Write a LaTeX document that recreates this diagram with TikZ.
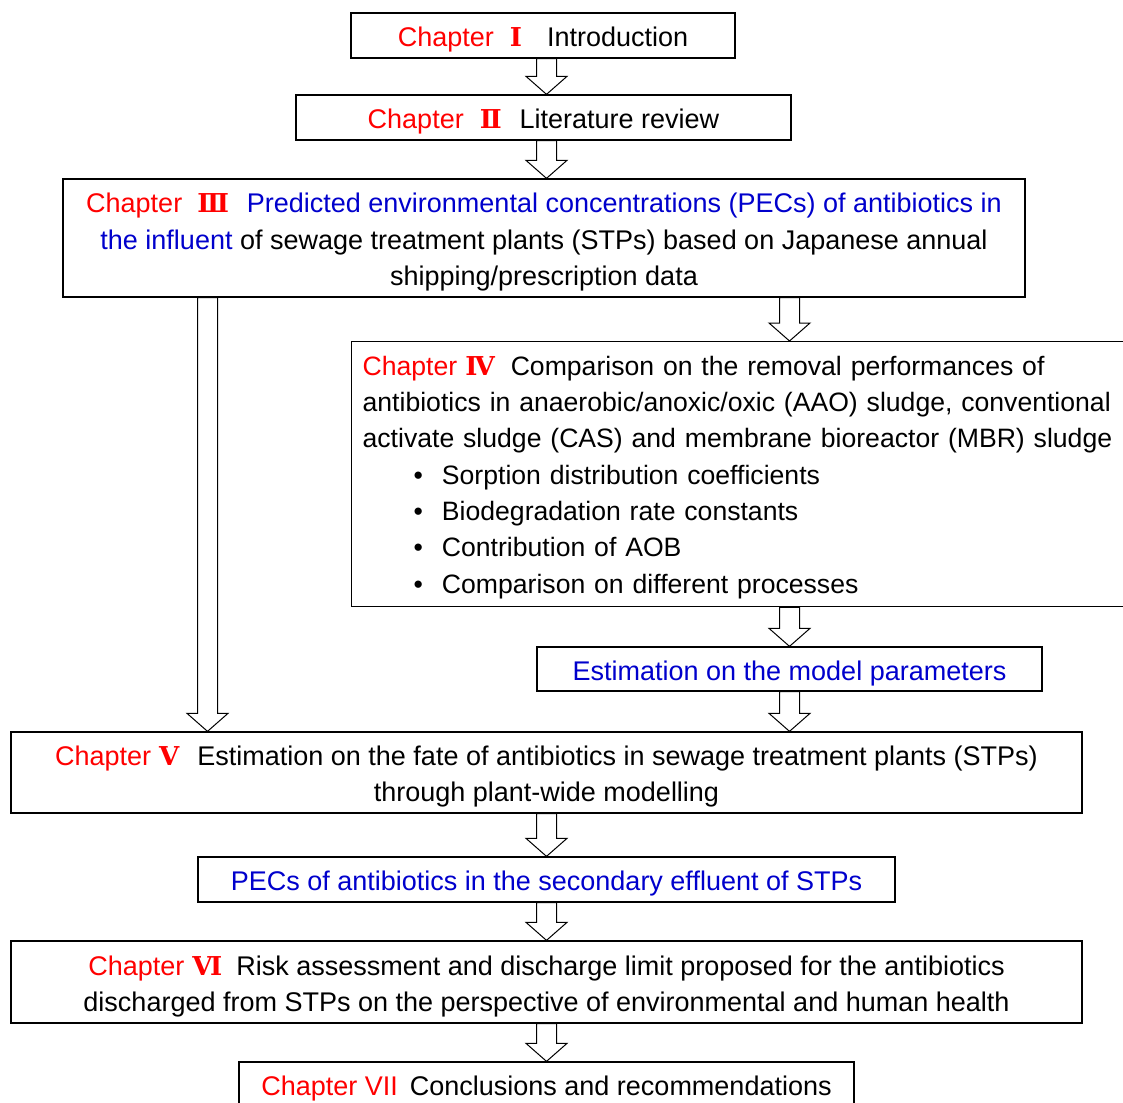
\documentclass[tikz,border=0pt]{standalone}
\usepackage{fontspec}
\setmainfont{Liberation Sans}
\newfontfamily\numfont{DejaVu Serif}
\usetikzlibrary{calc}
\definecolor{chred}{RGB}{255,0,0}
\definecolor{chblue}{RGB}{0,0,204}
\newcommand{\chap}[2][8pt]{\textcolor{chred}{Chapter\hspace{#1}{\numfont\bfseries\fontsize{26}{30}\selectfont #2}}}
\newcommand{\sk}{\rule[-6pt]{0pt}{34.4pt}}
\newcommand{\ib}{\hspace*{51pt}\textbullet\hspace{19pt}}

\begin{document}
\begin{tikzpicture}[x=1pt,y=-1pt,
  chbox/.style={draw, line width=1.3pt, inner sep=0pt, align=center,
    font=\fontsize{27}{36.3}\selectfont},
  hollow/.style={draw, line width=1pt, fill=white,
    to path={let \p1=(\tikztostart), \p2=(\tikztotarget) in
      (\x1-10pt,\y1) -- (\x1-10pt,\y2+18pt) -- (\x1-20.5pt,\y2+18pt) -- (\x1,\y2)
      -- (\x1+20.5pt,\y2+18pt) -- (\x1+10pt,\y2+18pt) -- (\x1+10pt,\y1) -- cycle}}]
\useasboundingbox (0,0) rectangle (1123,1102);
\coordinate (spine) at (546.5,0);
\coordinate (lane) at (207.5,0);

\node[chbox, minimum width=384, minimum height=45] (ch1) at (543,35.5)
  {\sk\chap[16pt]{Ⅰ}\hspace{25pt}Introduction};
\node[chbox, minimum width=495, minimum height=45] (ch2) at (543.5,117.5)
  {\sk\chap[16pt]{Ⅱ}\hspace{18pt}Literature review};
\node[chbox, minimum width=962, minimum height=118] (ch3) at (544,238)
  {\sk\chap[15pt]{Ⅲ}\hspace{18pt}\textcolor{chblue}{Predicted environmental concentrations (PECs) of antibiotics in}\\
   \textcolor{chblue}{the influent} of sewage treatment plants (STPs) based on Japanese annual\\
   shipping/prescription data\sk};
\node[chbox, anchor=north west, minimum height=265, text width=762, inner xsep=11,
  align=left, font=\fontsize{26.6}{36.3}\selectfont] (ch4) at (351,341)
  {\rule[-6pt]{0pt}{32pt}\chap{Ⅳ}\hspace{16pt}Comparison on the removal performances of\\
   antibiotics in anaerobic/anoxic/oxic (AAO) sludge, conventional\\
   activate sludge (CAS) and membrane bioreactor (MBR) sludge\\
   \ib Sorption distribution coefficients\\
   \ib Biodegradation rate constants\\
   \ib Contribution of AOB\\
   \ib Comparison on different processes\sk};
\node[chbox, minimum width=505, minimum height=44] (est) at (789.5,669)
  {\sk\textcolor{chblue}{Estimation on the model parameters}};
\node[chbox, minimum width=1071, minimum height=81] (ch5) at (546.5,772.5)
  {\sk\chap{Ⅴ}\hspace{18pt}Estimation on the fate of antibiotics in sewage treatment plants (STPs)\\
   through plant-wide modelling\sk};
\node[chbox, minimum width=697, minimum height=45] (pecs) at (546.5,879.5)
  {\sk\textcolor{chblue}{PECs of antibiotics in the secondary effluent of STPs}};
\node[chbox, minimum width=1071, minimum height=82] (ch6) at (546.5,982)
  {\sk\chap{Ⅵ}\hspace{14pt}Risk assessment and discharge limit proposed for the antibiotics\\
   discharged from STPs on the perspective of environmental and human health\sk};
\node[chbox, minimum width=615, minimum height=45] (ch7) at (546.5,1084.5)
  {\sk\textcolor{chred}{Chapter VII}\hspace{12pt}Conclusions and recommendations};

\draw[hollow] (ch1.south -| spine) to (ch2.north -| spine);
\draw[hollow] (ch2.south -| spine) to (ch3.north -| spine);
\draw[hollow] (ch3.south -| est) to (ch4.north -| est);
\draw[hollow] (ch3.south -| lane) to (ch5.north -| lane);
\draw[hollow] (ch4.south -| est) to (est.north);
\draw[hollow] (est.south) to (ch5.north -| est);
\draw[hollow] (ch5.south -| spine) to (pecs.north -| spine);
\draw[hollow] (pecs.south -| spine) to (ch6.north -| spine);
\draw[hollow] (ch6.south -| spine) to (ch7.north -| spine);
\end{tikzpicture}
\end{document}
